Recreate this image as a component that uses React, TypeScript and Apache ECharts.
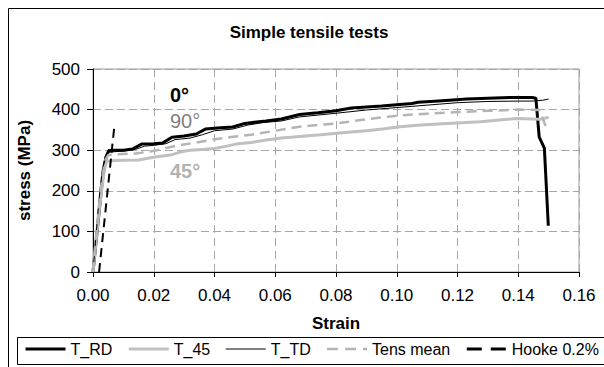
import React, { useEffect, useRef } from "react";
import * as echarts from "echarts";

// Stress–strain curves, [strain, stress (MPa)]
const tRD: [number, number][] = [
  [0, 0], [0.0015, 110], [0.003, 220], [0.0038, 262], [0.0045, 288], [0.0052, 299],
  [0.007, 300], [0.01, 300], [0.013, 303], [0.016, 315], [0.02, 316], [0.023, 318],
  [0.026, 332], [0.03, 335], [0.034, 340], [0.037, 352], [0.042, 355], [0.046, 357],
  [0.05, 366], [0.057, 372], [0.062, 377], [0.068, 388], [0.074, 392], [0.08, 397],
  [0.085, 404], [0.095, 409], [0.105, 415], [0.107, 418], [0.115, 422], [0.123, 426],
  [0.13, 428], [0.138, 430], [0.1445, 430], [0.1458, 428], [0.1469, 332],
  [0.1486, 305], [0.1499, 114],
];

const t45: [number, number][] = [
  [0, 0], [0.001, 75], [0.002, 150], [0.003, 210], [0.0038, 255], [0.0045, 272],
  [0.006, 274], [0.01, 275], [0.015, 276], [0.018, 280], [0.021, 284], [0.026, 289],
  [0.029, 296], [0.032, 300], [0.036, 302], [0.04, 304], [0.044, 310], [0.047, 315],
  [0.052, 319], [0.057, 325], [0.062, 330], [0.068, 334], [0.075, 338], [0.082, 343],
  [0.09, 348], [0.096, 353], [0.101, 358], [0.108, 362], [0.115, 365], [0.12, 367],
  [0.1275, 370], [0.133, 374], [0.1395, 378], [0.1445, 377], [0.1472, 376], [0.15, 381],
];

const tTD: [number, number][] = [
  [0, 0], [0.001, 90], [0.002, 180], [0.003, 250], [0.004, 285], [0.005, 295],
  [0.01, 298], [0.014, 302], [0.017, 310], [0.02, 312], [0.024, 316], [0.027, 326],
  [0.032, 330], [0.036, 338], [0.04, 348], [0.046, 352], [0.051, 362], [0.056, 368],
  [0.062, 372], [0.068, 382], [0.08, 391], [0.09, 399], [0.1, 405], [0.11, 411],
  [0.12, 417], [0.13, 420], [0.14, 421], [0.145, 421], [0.148, 423], [0.15, 426],
];

const tensMean: [number, number][] = [
  [0, 0], [0.001, 85], [0.002, 165], [0.003, 230], [0.004, 275], [0.005, 288],
  [0.008, 290], [0.014, 292], [0.018, 296], [0.021, 300], [0.028, 312], [0.035, 320],
  [0.04, 327], [0.046, 333], [0.052, 338], [0.06, 348], [0.068, 358], [0.08, 366],
  [0.09, 376], [0.1, 385], [0.11, 390], [0.12, 394], [0.13, 397], [0.14, 400],
  [0.147, 399], [0.1495, 350],
];

// Elastic line offset by 0.2 % strain
const hooke: [number, number][] = [
  [0.002, 0], [0.007, 357],
];

const seriesNames = ["T_RD", "T_45", "T_TD", "Tens mean", "Hooke 0.2%"];
const angleLabels = ["0°", "90°", "45°"];

const FONT = '"Liberation Sans", Arial, sans-serif';

export default function App() {
  const ref = useRef<HTMLDivElement>(null);

  useEffect(() => {
    if (!ref.current) return;
    const chart = echarts.init(ref.current, null, { renderer: "svg" });

    const mkLine = (
      name: string,
      data: [number, number][],
      color: string,
      width: number,
      type: any = "solid"
    ) => ({
      name,
      type: "line",
      data,
      showSymbol: false,
      symbol: "none",
      lineStyle: { color, width, type, cap: "butt" },
      itemStyle: { color },
      emphasis: { disabled: true },
    });

    // Legend keys: wider dashes so the dashed styles read clearly
    const legendData = [
      { name: seriesNames[0], lineStyle: { width: 3 } },
      { name: seriesNames[1], lineStyle: { width: 3 } },
      { name: seriesNames[2], lineStyle: { width: 1 } },
      { name: seriesNames[3], lineStyle: { width: 2.5, type: [11, 7] } },
      { name: seriesNames[4], lineStyle: { width: 3, type: [15, 9] } },
    ];

    chart.setOption({
      animation: false,
      textStyle: { fontFamily: FONT },
      title: {
        text: "Simple tensile tests",
        left: 309,
        top: 24,
        textAlign: "center",
        padding: 0,
        textStyle: { fontFamily: FONT, fontSize: 17, fontWeight: "bold", color: "#000" },
      },
      grid: {
        left: 93,
        right: 25,
        top: 69,
        bottom: 95,
        show: true,
        borderColor: "#9a9a9a",
        borderWidth: 1,
        backgroundColor: "transparent",
      },
      legend: {
        left: 24,
        top: 341,
        width: 590,
        itemWidth: 40,
        itemHeight: 14,
        itemGap: 15,
        padding: 0,
        data: legendData,
        // line-only keys: the marker dot is made invisible
        itemStyle: { opacity: 0 },
        textStyle: { fontFamily: FONT, fontSize: 16, color: "#000" },
      },
      xAxis: {
        type: "value",
        min: 0,
        max: 0.16,
        interval: 0.02,
        name: "Strain",
        nameLocation: "middle",
        nameGap: 43,
        nameTextStyle: { fontFamily: FONT, fontSize: 17, fontWeight: "bold", color: "#000" },
        axisLine: { show: true, onZero: false, lineStyle: { color: "#000", width: 1 } },
        axisTick: { show: true, inside: false, length: 5, lineStyle: { color: "#000" } },
        axisLabel: {
          margin: 15,
          fontFamily: FONT,
          fontSize: 17,
          color: "#000",
          formatter: (v: number) => v.toFixed(2),
        },
        splitLine: { show: true, lineStyle: { color: "#a6a6a6", type: [8, 5], width: 1 } },
      },
      yAxis: {
        type: "value",
        min: 0,
        max: 500,
        interval: 100,
        name: "stress (MPa)",
        nameLocation: "middle",
        nameRotate: 90,
        nameGap: 60,
        nameTextStyle: { fontFamily: FONT, fontSize: 17, fontWeight: "bold", color: "#000" },
        axisLine: { show: true, onZero: false, lineStyle: { color: "#000", width: 1 } },
        axisTick: { show: true, inside: false, length: 6, lineStyle: { color: "#000" } },
        axisLabel: { margin: 13, fontFamily: FONT, fontSize: 17, color: "#000" },
        splitLine: { show: true, lineStyle: { color: "#a6a6a6", type: [8, 4], width: 1 } },
      },
      graphic: [
        {
          type: "rect",
          silent: true,
          z: -10,
          shape: { x: 8.5, y: 8.5, width: 700, height: 500 },
          style: { fill: "none", stroke: "#000", lineWidth: 1 },
        },
        {
          type: "rect",
          silent: true,
          z: -10,
          shape: { x: 17.5, y: 337.5, width: 700, height: 27 },
          style: { fill: "none", stroke: "#000", lineWidth: 1 },
        },
        {
          type: "text",
          silent: true,
          x: 170,
          y: 95,
          style: {
            text: angleLabels[0],
            font: `bold 20px ${FONT}`,
            fill: "#000",
            verticalAlign: "middle",
          },
        },
        {
          type: "text",
          silent: true,
          x: 170,
          y: 121,
          style: {
            text: angleLabels[1],
            font: `20px ${FONT}`,
            fill: "#7f7f7f",
            verticalAlign: "middle",
          },
        },
        {
          type: "text",
          silent: true,
          x: 170,
          y: 171,
          style: {
            text: angleLabels[2],
            font: `bold 20px ${FONT}`,
            fill: "#b2b2b2",
            verticalAlign: "middle",
          },
        },
      ],
      series: [
        mkLine(seriesNames[0], tRD, "#000000", 3),
        mkLine(seriesNames[1], t45, "#c0c0c0", 3),
        mkLine(seriesNames[2], tTD, "#000000", 1),
        mkLine(seriesNames[3], tensMean, "#b4b4b4", 2.5, [10, 6]),
        mkLine(seriesNames[4], hooke, "#000000", 2, [9, 6]),
      ],
    });

    return () => chart.dispose();
  }, []);

  return (
    <div
      ref={ref}
      style={{ position: "fixed", left: 0, top: 0, width: 604, height: 367, background: "#fff" }}
    />
  );
}
